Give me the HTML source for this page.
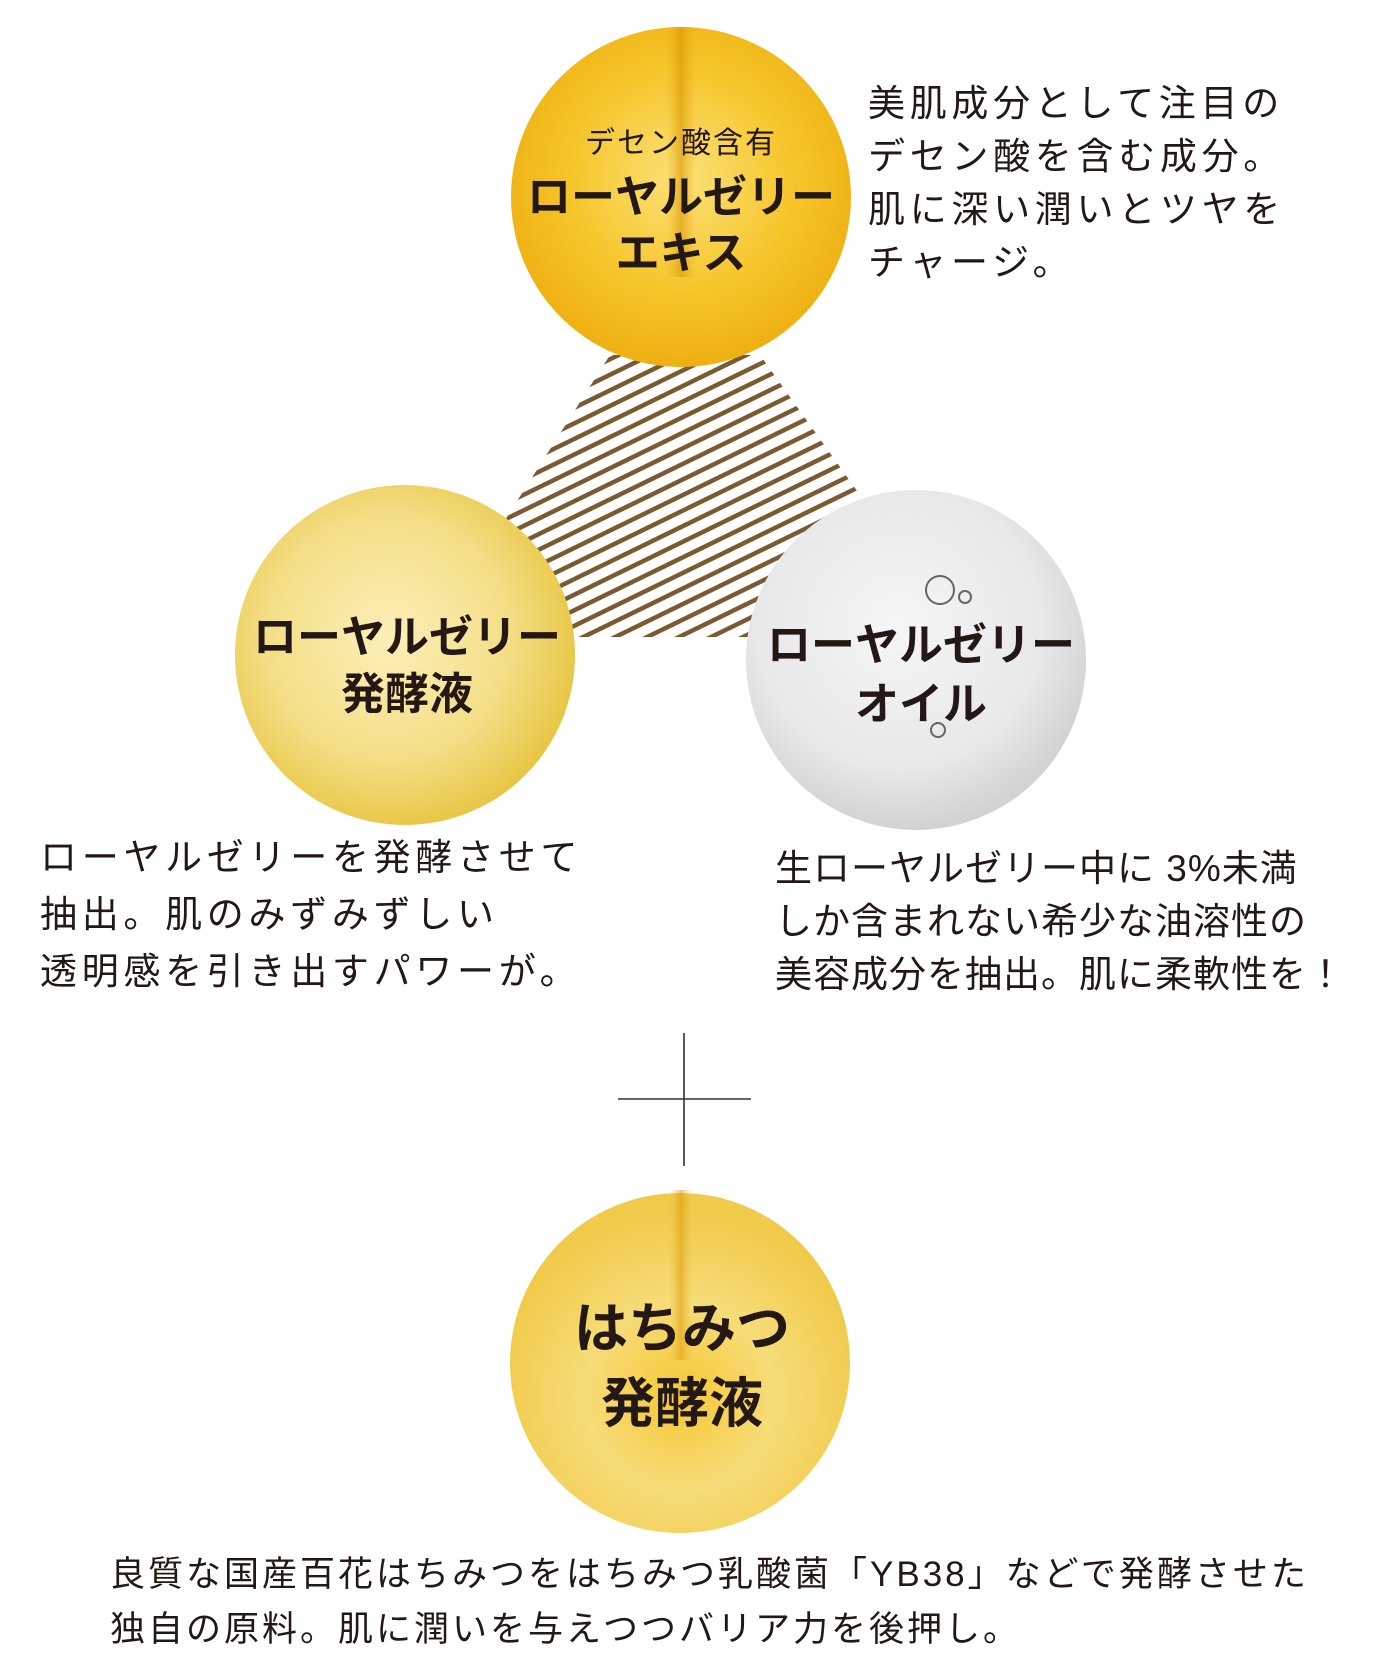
<!DOCTYPE html>
<html><head><meta charset="utf-8">
<style>
html,body{margin:0;padding:0;background:#fff;}
body{width:1384px;height:1675px;position:relative;overflow:hidden;font-family:"Liberation Sans","Noto Sans CJK JP",sans-serif;color:#231815;}
.t{position:absolute;white-space:nowrap;font-size:37px;letter-spacing:3px;line-height:53px;}
.c{position:absolute;text-align:center;white-space:nowrap;font-weight:bold;}
</style></head><body>
<svg width="1384" height="1675" style="position:absolute;left:0;top:0">
<defs>
<pattern id="st" patternUnits="userSpaceOnUse" width="14" height="14" patternTransform="rotate(-26)">
<rect x="0" y="0" width="14" height="4.5" fill="#7a5a32"/>
</pattern>
<radialGradient id="g1" cx="50%" cy="45%" r="55%">
<stop offset="0" stop-color="#fbe27a"/><stop offset="0.6" stop-color="#f6c52a"/><stop offset="1" stop-color="#eeb012"/></radialGradient>
<radialGradient id="g2" cx="45%" cy="45%" r="60%">
<stop offset="0" stop-color="#fbefb8"/><stop offset="0.6" stop-color="#f4de86"/><stop offset="1" stop-color="#e6c23a"/></radialGradient>
<radialGradient id="g3" cx="45%" cy="40%" r="60%">
<stop offset="0" stop-color="#f6f6f7"/><stop offset="0.7" stop-color="#e8e8ea"/><stop offset="1" stop-color="#d2d2d5"/></radialGradient>
<radialGradient id="g4" cx="50%" cy="60%" r="55%">
<stop offset="0" stop-color="#f4c733"/><stop offset="0.5" stop-color="#f7dc78"/><stop offset="1" stop-color="#f0ca4a"/></radialGradient>
<linearGradient id="dr" x1="0" x2="1"><stop offset="0" stop-color="#e8a810" stop-opacity="0"/><stop offset="0.5" stop-color="#d89400"/><stop offset="1" stop-color="#e8a810" stop-opacity="0"/></linearGradient>
</defs>
<polygon points="610,355 760,355 860,495 800,637 560,637 505,520" fill="url(#st)"/>
<circle cx="681" cy="197" r="170" fill="url(#g1)"/>
<rect x="666" y="27" width="30" height="250" fill="url(#dr)" opacity="0.6"/>
<circle cx="405" cy="655" r="170" fill="url(#g2)"/>
<circle cx="916" cy="660" r="170" fill="url(#g3)"/>
<circle cx="940" cy="590" r="14" fill="none" stroke="#666" stroke-width="2"/>
<circle cx="965" cy="597" r="6" fill="none" stroke="#666" stroke-width="2"/>
<circle cx="938" cy="730" r="7" fill="none" stroke="#666" stroke-width="2"/>
<circle cx="680" cy="1363" r="170" fill="url(#g4)"/>
<rect x="670" y="1190" width="22" height="170" fill="url(#dr)" opacity="0.5"/>
<line x1="684" y1="1033" x2="684" y2="1166" stroke="#333" stroke-width="1.6"/>
<line x1="618" y1="1099" x2="751" y2="1099" stroke="#333" stroke-width="1.6"/>
</svg>
<div class="c" style="left:531px;width:300px;top:124px;font-size:30px;font-weight:normal;letter-spacing:2px;line-height:40px">デセン酸含有</div>
<div class="c" style="left:481px;width:400px;top:170px;font-size:44px;line-height:56px">ローヤルゼリー<br>エキス</div>
<div class="c" style="left:207px;width:400px;top:609px;font-size:44px;line-height:57px">ローヤルゼリー<br>発酵液</div>
<div class="c" style="left:721px;width:400px;top:616px;font-size:44px;line-height:59px">ローヤルゼリー<br>オイル</div>
<div class="c" style="left:482px;width:400px;top:1292px;font-size:54px;line-height:75px">はちみつ<br>発酵液</div>
<div class="t" style="left:868px;top:77px;letter-spacing:4.7px">美肌成分として注目の<br>デセン酸を含む成分。<br>肌に深い潤いとツヤを<br>チャージ。</div>
<div class="t" style="left:40px;top:829px;line-height:57px;letter-spacing:4.7px">ローヤルゼリーを発酵させて<br>抽出。肌のみずみずしい<br>透明感を引き出すパワーが。</div>
<div class="t" style="left:775px;top:842px;letter-spacing:1px">生ローヤルゼリー中に 3%未満<br>しか含まれない希少な油溶性の<br>美容成分を抽出。肌に柔軟性を！</div>
<div class="t" style="left:110px;top:1547px;font-size:35px;letter-spacing:3px;line-height:55px">良質な国産百花はちみつをはちみつ乳酸菌「YB38」などで発酵させた<br>独自の原料。肌に潤いを与えつつバリア力を後押し。</div>
</body></html>
